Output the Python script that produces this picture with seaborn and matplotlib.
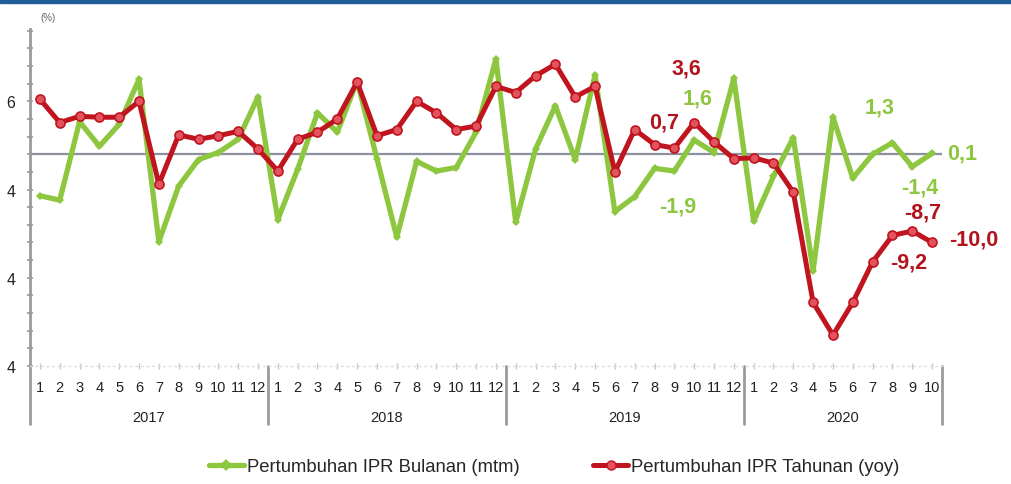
import numpy as np
import pandas as pd
import matplotlib
matplotlib.use("Agg")
import matplotlib.pyplot as plt
import seaborn as sns
from matplotlib.ticker import FixedLocator, FixedFormatter, MultipleLocator
from matplotlib.lines import Line2D

# ---------------- data ----------------
years = ["2017", "2018", "2019", "2020"]
months_per_year = [12, 12, 12, 10]
month_labels = [str(m) for n in months_per_year for m in range(1, n + 1)]

mtm = [-4.7, -5.2, 3.7, 0.9, 3.4, 8.5, -9.9, -3.6, -0.6, 0.2, 1.7, 6.5,
       -7.4, -1.7, 4.7, 2.5, 8.3, -0.5, -9.4, -0.8, -1.9, -1.5, 2.5, 10.8,
       -7.7, 0.6, 5.5, -0.6, 9.0, -6.5, -4.8, -1.6, -1.9, 1.6, 0.2, 8.6,
       -7.6, -2.5, 1.9, -13.2, 4.2, -2.7, 0.0, 1.3, -1.4, 0.1]
yoy = [6.25, 3.6, 4.3, 4.2, 4.2, 6.0, -3.4, 2.2, 1.7, 2.1, 2.6, 0.6,
       -1.9, 1.7, 2.5, 4.0, 8.2, 2.1, 2.8, 6.0, 4.7, 2.8, 3.2, 7.7,
       7.0, 8.9, 10.2, 6.5, 7.7, -2.0, 2.8, 1.1, 0.7, 3.6, 1.4, -0.5,
       -0.4, -1.0, -4.3, -16.8, -20.5, -16.8, -12.2, -9.2, -8.7, -10.0]

ytick_values = [6, -4, -14, -24]
ytick_labels = ["6", "4", "4", "4"]

series_names = ["Pertumbuhan IPR Bulanan (mtm)", "Pertumbuhan IPR Tahunan (yoy)"]

# (series, index, text, dx_px, dy_px)
annotations = [
    ("yoy", 33, "3,6", -8, 55),
    ("mtm", 33, "1,6", 3, 42),
    ("yoy", 32, "0,7", -10, 26),
    ("mtm", 32, "-1,9", 3, -35),
    ("mtm", 43, "1,3", -13, 36),
    ("mtm", 45, "0,1", 30, 0),
    ("mtm", 44, "-1,4", 7, -20),
    ("yoy", 44, "-8,7", 10, 19),
    ("yoy", 43, "-9,2", 16, -27),
    ("yoy", 45, "-10,0", 42, 3),
]

# ---------------- style ----------------
GREEN = "#8DC63F"
RED = "#C0141E"
RED_FILL = "#E2535E"
RED_TXT = "#B3131C"
GRAY = "#9A9A9A"

sns.set_theme(style="white")
plt.rcParams["font.family"] = ["Liberation Sans", "DejaVu Sans"]

idx = np.arange(len(month_labels))
df = pd.DataFrame({"idx": idx, "mtm": mtm, "yoy": yoy})

fig = plt.figure(figsize=(10.11, 4.85), dpi=100)
ax = fig.add_axes([30 / 1011, 1 - 367 / 485, (942 - 30) / 1011, (367 - 30) / 485])

ax.axhline(0, color="#8C90A0", lw=1.6, zorder=1)

sns.lineplot(data=df, x="idx", y="mtm", ax=ax, color=GREEN, lw=3.8,
             marker="D", markersize=4, markeredgewidth=0, sort=False, zorder=3)
sns.lineplot(data=df, x="idx", y="yoy", ax=ax, color=RED, lw=3.6,
             marker="o", markersize=6.5, markerfacecolor=RED_FILL,
             markeredgecolor=RED, markeredgewidth=1.2, sort=False, zorder=4)

ax.set_xlim(-0.5, len(month_labels) - 0.5)
ax.set_ylim(-24, 14.2)

# y axis
ax.yaxis.set_major_locator(FixedLocator(ytick_values))
ax.yaxis.set_major_formatter(FixedFormatter(ytick_labels))
ax.yaxis.set_minor_locator(MultipleLocator(2))
ax.tick_params(axis="y", which="both", direction="inout", color=GRAY,
               length=5, width=1.2, labelsize=11.5, labelcolor="#222222", pad=8, left=True)
ax.tick_params(axis="y", which="minor", length=4)

# x axis
ax.set_xticks(idx)
ax.set_xticklabels(month_labels)
ax.tick_params(axis="x", which="major", direction="inout", color="#C8C8C8",
               length=4, width=1, labelsize=10.5, labelcolor="#222222", pad=8, bottom=True)
ax.set_xlabel("")
ax.set_ylabel("")

for s in ["top", "right"]:
    ax.spines[s].set_visible(False)
ax.spines["left"].set_color(GRAY)
ax.spines["left"].set_linewidth(2)
ax.spines["bottom"].set_color("#DCDCDC")
ax.spines["bottom"].set_linewidth(1)
ax.spines["bottom"].set_linestyle((0, (1, 3)))

# year separators and labels
trans = ax.get_xaxis_transform()
y_low = -(425 - 367) / (367 - 30)
bounds = np.cumsum([0] + months_per_year) - 0.5
for b in bounds:
    ax.plot([b, b], [0, y_low], transform=trans, color=GRAY, lw=2, clip_on=False)
y_year = -(418 - 367) / (367 - 30)
for i, yr in enumerate(years):
    ax.text((bounds[i] + bounds[i + 1]) / 2, y_year, yr, transform=trans,
            ha="center", va="center", fontsize=10.5, color="#222222")

# (%) label
fig.text(48 / 1011, 1 - 18 / 485, "(%)", fontsize=7, color="#666666", ha="center", va="center")

# top blue bar
fig.patches.append(plt.Rectangle((0, 1 - 4 / 485), 1, 4 / 485, transform=fig.transFigure,
                                 color="#1F5C99", zorder=0))

# annotations
vals = {"mtm": mtm, "yoy": yoy}
for ser, i, txt, dx, dy in annotations:
    col = GREEN if ser == "mtm" else RED_TXT
    ax.annotate(txt, (idx[i], vals[ser][i]), xytext=(dx, dy), textcoords="offset pixels",
                ha="center", va="center", fontsize=15.5, fontweight="bold", color=col)

# legend
handles = [
    Line2D([], [], color=GREEN, lw=3.8, marker="D", markersize=6, markeredgewidth=0),
    Line2D([], [], color=RED, lw=3.6, marker="o", markersize=6.5,
           markerfacecolor=RED_FILL, markeredgecolor=RED),
]
fig.legend(handles, series_names, loc="center", bbox_to_anchor=(0.548, 1 - 468 / 485),
           ncol=2, frameon=False, fontsize=13.3, handlelength=1.9, handletextpad=0.15,
           columnspacing=4.0)

fig.savefig("out.png", dpi=100, facecolor="white")
